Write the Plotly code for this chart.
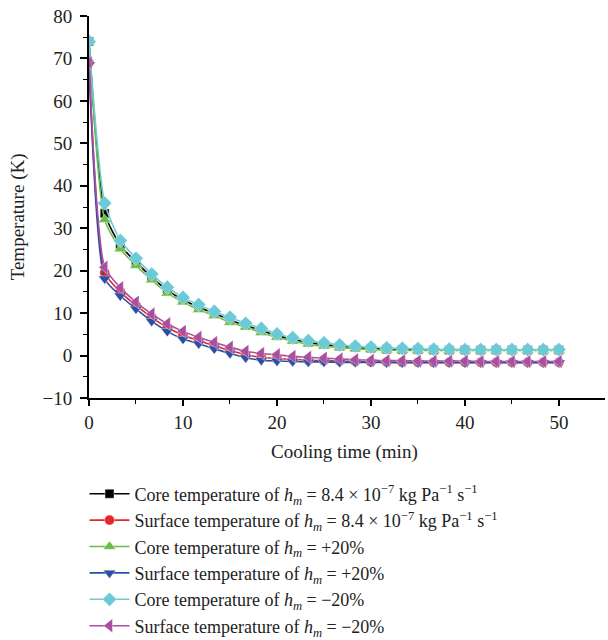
import plotly.graph_objects as go

time_min = [0, 1.67, 3.33, 5, 6.67, 8.33, 10, 11.67, 13.33, 15, 16.67, 18.33, 20,
            21.67, 23.33, 25, 26.67, 28.33, 30, 31.67, 33.33, 35, 36.67, 38.33, 40,
            41.67, 43.33, 45, 46.67, 48.33, 50]

core_base = [74, 33.5, 26.0, 22.0, 18.5, 15.4, 13.1, 11.4, 9.9, 8.4, 7.1, 5.9, 4.7,
             3.8, 3.1, 2.6, 2.2, 1.9, 1.7, 1.5, 1.4, 1.4, 1.3, 1.3, 1.3, 1.3, 1.3, 1.3,
             1.3, 1.3, 1.3]
surf_base = [69, 19.5, 15.0, 11.8, 9.0, 6.6, 4.8, 3.5, 2.3, 1.2, 0.2, -0.4, -0.7,
             -0.9, -1.1, -1.2, -1.3, -1.4, -1.5, -1.5, -1.6, -1.6, -1.6, -1.6, -1.6,
             -1.6, -1.6, -1.6, -1.6, -1.6, -1.6]
core_plus20 = [74, 32.0, 25.1, 21.2, 17.8, 14.7, 12.6, 10.8, 9.4, 7.8, 6.7, 5.4, 4.3,
               3.4, 2.7, 2.2, 1.9, 1.6, 1.4, 1.3, 1.2, 1.2, 1.2, 1.2, 1.2, 1.2, 1.2,
               1.2, 1.2, 1.2, 1.2]
surf_plus20 = [68.5, 18.1, 14.1, 11.0, 8.1, 5.7, 3.9, 2.8, 1.6, 0.5, -0.5, -1.1, -1.3,
               -1.4, -1.5, -1.5, -1.6, -1.6, -1.6, -1.7, -1.7, -1.7, -1.7, -1.7, -1.7,
               -1.7, -1.7, -1.7, -1.7, -1.7, -1.7]
core_minus20 = [74, 35.9, 27.1, 22.9, 19.2, 16.1, 13.7, 12.0, 10.4, 9.0, 7.6, 6.4, 5.1,
                4.2, 3.5, 3.0, 2.5, 2.2, 2.0, 1.8, 1.7, 1.6, 1.5, 1.5, 1.4, 1.4, 1.4,
                1.4, 1.4, 1.4, 1.4]
surf_minus20 = [69, 20.8, 16.0, 12.6, 9.8, 7.5, 5.7, 4.3, 3.1, 2.0, 1.0, 0.5, 0.2,
                -0.2, -0.4, -0.6, -0.8, -1.0, -1.1, -1.2, -1.2, -1.3, -1.3, -1.3, -1.3,
                -1.4, -1.4, -1.4, -1.4, -1.4, -1.4]

x_ticks = [0, 10, 20, 30, 40, 50]
y_ticks = [-10, 0, 10, 20, 30, 40, 50, 60, 70, 80]
y_tick_labels = ["−10", "0", "10", "20", "30", "40", "50", "60", "70", "80"]

HM = "<i>h</i><sub><i>m</i></sub>"
series_names = [
    f"Core temperature of {HM} = 8.4 × 10<sup>−7</sup> kg Pa<sup>−1</sup> s<sup>−1</sup>",
    f"Surface temperature of {HM} = 8.4 × 10<sup>−7</sup> kg Pa<sup>−1</sup> s<sup>−1</sup>",
    f"Core temperature of {HM} = +20%",
    f"Surface temperature of {HM} = +20%",
    f"Core temperature of {HM} = −20%",
    f"Surface temperature of {HM} = −20%",
]
series_values = [core_base, surf_base, core_plus20, surf_plus20, core_minus20, surf_minus20]
colors = ["#000000", "#e8262a", "#6bbd45", "#2e4ea1", "#6ccad6", "#aa4f9f"]
symbols = ["square", "circle", "triangle-up", "triangle-down", "diamond", "triangle-left"]
sizes = [9, 10, 11, 11, 11, 12]

fig = go.Figure()
for name, vals, c, s, sz in zip(series_names, series_values, colors, symbols, sizes):
    fig.add_trace(go.Scatter(
        x=time_min, y=vals, name=name, mode="lines+markers",
        line=dict(color=c, width=1.6, shape="spline", smoothing=0.6),
        marker=dict(symbol=s, size=sz, color=c, line=dict(color="white", width=0.4)),
    ))

FONT = "Liberation Serif"
fig.update_layout(
    width=608, height=640,
    margin=dict(l=89, r=3, t=16, b=242, autoexpand=False),
    paper_bgcolor="white", plot_bgcolor="white",
    font=dict(family=FONT, size=18, color="#222222"),
    showlegend=True,
    legend=dict(
        xref="container", yref="container", x=0.139, y=0.257,
        xanchor="left", yanchor="top",
        font=dict(family=FONT, size=18, color="#222222"),
        bgcolor="rgba(0,0,0,0)", itemwidth=40, tracegroupgap=0,
    ),
    xaxis=dict(
        range=[0, 54.9], tickvals=x_ticks,
        showgrid=False, zeroline=False,
        showline=True, linecolor="black", linewidth=2,
        ticks="outside", ticklen=6, tickwidth=1.5, tickcolor="black",
        minor=dict(tickvals=[5, 15, 25, 35, 45], ticks="outside", ticklen=4,
                   tickwidth=1.2, tickcolor="black"),
        tickfont=dict(family=FONT, size=19),
    ),
    yaxis=dict(
        range=[-10, 80], tickvals=y_ticks, ticktext=y_tick_labels,
        showgrid=False, zeroline=False,
        showline=True, linecolor="black", linewidth=2,
        ticks="outside", ticklen=7, tickwidth=1.5, tickcolor="black",
        ticklabelstandoff=4,
        minor=dict(tickvals=[-5, 5, 15, 25, 35, 45, 55, 65, 75], ticks="outside",
                   ticklen=4, tickwidth=1.2, tickcolor="black"),
        tickfont=dict(family=FONT, size=19),
    ),
    annotations=[
        dict(text="Temperature (K)", xref="paper", yref="paper",
             x=-0.138, y=0.475, xanchor="center", yanchor="middle",
             textangle=-90, showarrow=False, font=dict(family=FONT, size=19)),
        dict(text="Cooling time (min)", xref="paper", yref="paper",
             x=0.496, y=-0.142, xanchor="center", yanchor="middle",
             showarrow=False, font=dict(family=FONT, size=19)),
    ],
)

fig.write_html(
    "out.html",
    config={"displayModeBar": False},
    post_script="document.body.style.margin='0';document.body.style.overflow='hidden';",
)
